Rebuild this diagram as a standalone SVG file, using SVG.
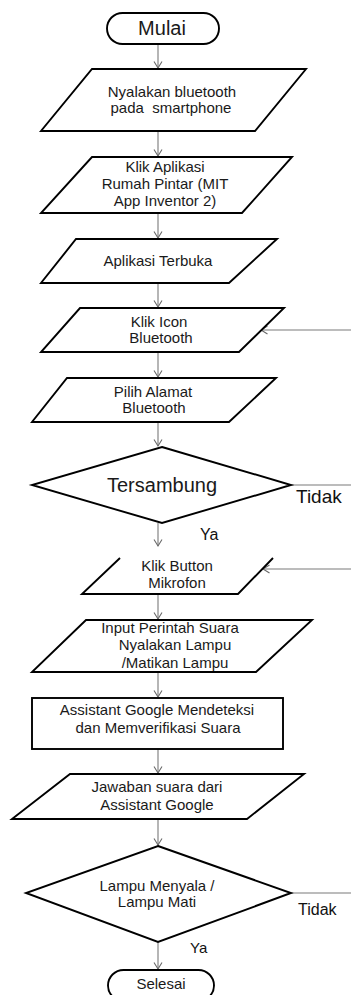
<svg xmlns="http://www.w3.org/2000/svg" width="351" height="995" viewBox="0 0 351 995">
<style>
  .shape { fill: #ffffff; stroke: #000000; stroke-width: 1.9; stroke-linejoin: miter; }
  .open { fill: none; stroke: #000000; stroke-width: 1.9; }
  .conn { fill: none; stroke: #7a7a7a; stroke-width: 1.1; }
  .t { font-family: "Liberation Sans", Arial, sans-serif; font-size: 15px; fill: #1a1a1a; text-anchor: middle; }
  .big { font-size: 20px; }
  .lbl { font-family: "Liberation Sans", Arial, sans-serif; fill: #111111; }
</style>
<defs>
  <marker id="arr" markerUnits="userSpaceOnUse" markerWidth="10" markerHeight="10" refX="7" refY="4.5" orient="auto">
    <path d="M0.5,0.5 L7,4.5 L0.5,8.5" fill="none" stroke="#6a6a6a" stroke-width="1.1"/>
  </marker>
</defs>
<rect width="351" height="995" fill="#ffffff"/>

<g id="connectors">
  <line class="conn" x1="158" y1="44" x2="158" y2="68" marker-end="url(#arr)"/>
  <line class="conn" x1="158" y1="131" x2="158" y2="156" marker-end="url(#arr)"/>
  <line class="conn" x1="158" y1="213" x2="158" y2="238" marker-end="url(#arr)"/>
  <line class="conn" x1="158" y1="283" x2="158" y2="307" marker-end="url(#arr)"/>
  <line class="conn" x1="351" y1="330" x2="261" y2="330" marker-end="url(#arr)"/>
  <line class="conn" x1="158" y1="352" x2="158" y2="377" marker-end="url(#arr)"/>
  <line class="conn" x1="158" y1="422" x2="158" y2="446" marker-end="url(#arr)"/>
  <line class="conn" x1="291" y1="485" x2="351" y2="485"/>
  <line class="conn" x1="158" y1="523" x2="158" y2="546" marker-end="url(#arr)"/>
  <line class="conn" x1="351" y1="569" x2="263" y2="569" marker-end="url(#arr)"/>
  <line class="conn" x1="158" y1="594" x2="158" y2="619" marker-end="url(#arr)"/>
  <line class="conn" x1="158" y1="672" x2="158" y2="697" marker-end="url(#arr)"/>
  <line class="conn" x1="158" y1="749" x2="158" y2="773" marker-end="url(#arr)"/>
  <line class="conn" x1="158" y1="819" x2="158" y2="845" marker-end="url(#arr)"/>
  <line class="conn" x1="291" y1="893" x2="351" y2="893"/>
  <line class="conn" x1="158" y1="942" x2="158" y2="969" marker-end="url(#arr)"/>
  <text class="lbl" x="296" y="503" font-size="19">Tidak</text>
  <text class="lbl" x="200" y="540" font-size="16">Ya</text>
  <text class="lbl" x="298" y="915" font-size="16">Tidak</text>
  <text class="lbl" x="190" y="953" font-size="15">Ya</text>
</g>

<g id="mulai">
  <rect class="shape" x="107" y="13" width="112" height="31" rx="15.5" ry="15.5"/>
  <text class="t big" x="162" y="35">Mulai</text>
</g>

<g id="nyalakan-bluetooth">
  <polygon class="shape" points="92,69 306,69 255,131 41,131"/>
  <text class="t" x="172" y="97">Nyalakan bluetooth</text>
  <text class="t" x="171" y="113" xml:space="preserve">pada  smartphone</text>
</g>

<g id="klik-aplikasi">
  <polygon class="shape" points="92,157 292,157 242,213 41,213"/>
  <text class="t" x="165" y="172">Klik Aplikasi</text>
  <text class="t" x="165" y="189">Rumah Pintar (MIT</text>
  <text class="t" x="165" y="206">App Inventor 2)</text>
</g>

<g id="aplikasi-terbuka">
  <polygon class="shape" points="76,239 277,239 229,283 41,283"/>
  <text class="t" x="158" y="266">Aplikasi Terbuka</text>
</g>

<g id="klik-icon-bluetooth">
  <polygon class="shape" points="80,308 284,308 239,352 41,352"/>
  <text class="t" x="159" y="327">Klik Icon</text>
  <text class="t" x="161" y="343">Bluetooth</text>
</g>

<g id="pilih-alamat">
  <polygon class="shape" points="67,378 276,378 229,422 32,422"/>
  <text class="t" x="153" y="397">Pilih Alamat</text>
  <text class="t" x="154" y="413">Bluetooth</text>
</g>

<g id="tersambung">
  <polygon class="shape" points="162,447 291,485 162,523 32,485"/>
  <text class="t big" x="162" y="492">Tersambung</text>
</g>

<g id="klik-button-mikrofon">
  <path class="open" d="M120,558 L82,594 L238,594 L273,558"/>
  <text class="t" x="177" y="571">Klik Button</text>
  <text class="t" x="177" y="588">Mikrofon</text>
</g>

<g id="input-perintah">
  <polygon class="shape" points="86,620 312,620 256,672 32,672"/>
  <text class="t" x="170" y="633">Input Perintah Suara</text>
  <text class="t" x="175" y="650">Nyalakan Lampu</text>
  <text class="t" x="175" y="668">/Matikan Lampu</text>
</g>

<g id="assistant-deteksi">
  <rect class="shape" x="32" y="698" width="251" height="51" stroke-width="2.3"/>
  <text class="t" x="157" y="715">Assistant Google Mendeteksi</text>
  <text class="t" x="158" y="733">dan Memverifikasi Suara</text>
</g>

<g id="jawaban-suara">
  <polygon class="shape" points="70,774 304,774 247,819 12,819"/>
  <text class="t" x="157" y="792">Jawaban suara dari</text>
  <text class="t" x="157" y="810">Assistant Google</text>
</g>

<g id="lampu-menyala">
  <polygon class="shape" points="158,846 291,893 158,942 26,893"/>
  <text class="t" x="157" y="891">Lampu Menyala /</text>
  <text class="t" x="157" y="907">Lampu Mati</text>
</g>

<g id="selesai">
  <rect class="shape" x="108" y="970" width="106" height="31" rx="15.5" ry="15.5"/>
  <text class="t" x="161" y="989" font-size="18">Selesai</text>
</g>
</svg>
